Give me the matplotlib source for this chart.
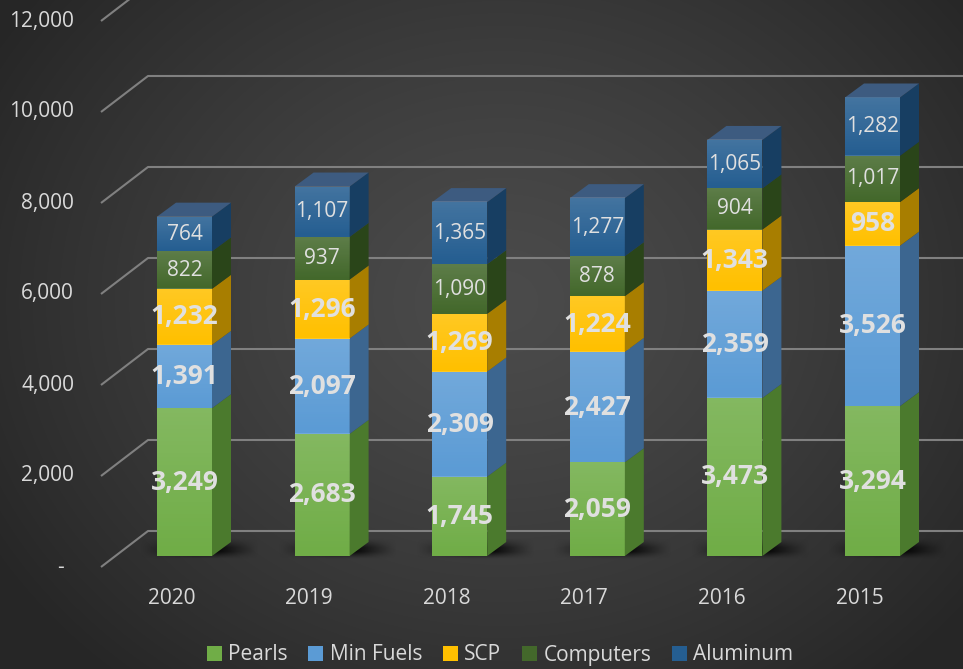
import numpy as np
import matplotlib
matplotlib.use("Agg")
import matplotlib.pyplot as plt
from matplotlib.patches import Polygon, Rectangle

# ---------------- data ----------------
years = ["2020", "2019", "2018", "2017", "2016", "2015"]
pearls = [3249, 2683, 1745, 2059, 3473, 3294]
min_fuels = [1391, 2097, 2309, 2427, 2359, 3526]
scp = [1232, 1296, 1269, 1224, 1343, 958]
computers = [822, 937, 1090, 878, 904, 1017]
aluminum = [764, 1107, 1365, 1277, 1065, 1282]
series_names = ["Pearls", "Min Fuels", "SCP", "Computers", "Aluminum"]
y_ticks = [0, 2000, 4000, 6000, 8000, 10000, 12000]
y_tick_labels = ["-", "2,000", "4,000", "6,000", "8,000", "10,000", "12,000"]

# ---------------- style ----------------
FONT = ["Open Sans", "DejaVu Sans"]
plt.rcParams["font.family"] = FONT
front_cols = ["#70ad47", "#5b9bd5", "#ffc000", "#43682b", "#255e91"]
side_cols = ["#4b7a2d", "#3c6690", "#a87e00", "#2a4519", "#173e62"]
top_col = "#3d5b80"
txt_col = "#e0e0e0"
bold_series = [True, True, True, False, False]

W, H, DPI = 963, 669, 100
fig = plt.figure(figsize=(W / DPI, H / DPI), dpi=DPI)
ax = fig.add_axes([0, 0, 1, 1])
ax.axis("off")

PX = 137.6      # pixels per category
PY = 0.0455     # pixels per value unit
X0 = 184.5      # pixel x of first bar centre
Y0 = 556.0      # pixel y (from top) of value 0 at bar front
xlim = (-X0 / PX, (W - X0) / PX)
ylim = (-(H - Y0) / PY, Y0 / PY)
ax.set_xlim(*xlim)
ax.set_ylim(*ylim)


def px2x(px):
    return (px - X0) / PX


def pyoff(dpx):  # pixel offset upward -> value units
    return dpx / PY


# background radial gradient
gy, gx = np.mgrid[0:H, 0:W]
r = np.sqrt(((gx - 0.52 * W) / (0.62 * W)) ** 2 + ((gy - 0.45 * H) / (0.75 * H)) ** 2)
t = np.clip(r, 0, 1) ** 1.3
c_in = np.array([0x4b, 0x4b, 0x4b]) / 255
c_out = np.array([0x26, 0x26, 0x26]) / 255
bg = c_in[None, None, :] * (1 - t[..., None]) + c_out[None, None, :] * t[..., None]
ax.imshow(bg, extent=(*xlim, *ylim), aspect="auto", zorder=0, origin="upper")

# gridlines (side wall diagonal + back wall)
gcol = "#808080"
for v, lab in zip(y_ticks, y_tick_labels):
    fx, fy = px2x(101), v - pyoff(11)
    bx, by = px2x(148), v + pyoff(25)
    ax.plot([fx, bx, xlim[1]], [fy, by, by], color=gcol, lw=1.5, zorder=1,
            solid_capstyle="butt")
    if lab == "-":
        ax.text(px2x(60), fy, lab, ha="center", va="center", fontsize=15,
                color="#d9d9d9", zorder=5)
    else:
        ax.text(px2x(74), fy, lab, ha="right", va="center", fontsize=15,
                color="#d9d9d9", zorder=5)

series = [pearls, min_fuels, scp, computers, aluminum]
idx = np.arange(len(years))
bw = 55 / PX
ddx = 19 / PX
ddy = pyoff(14)

# shadows under bars
for i in idx:
    x_l = i - bw / 2 - 0.12
    x_r = i + bw / 2 + ddx + 0.2
    y_b = -pyoff(3)
    y_t = pyoff(18)
    nx, ny = 120, 40
    xs = np.linspace(0, 1, nx)
    ys = np.linspace(0, 1, ny)
    ax_prof = np.clip(np.minimum(xs / 0.45, (1 - xs) / 0.35), 0, 1)
    ay_prof = np.clip(np.minimum(ys / 0.35, (1 - ys) / 0.45), 0, 1)
    alpha = (ax_prof[None, :] * ay_prof[:, None]) ** 1.2 * 0.85
    img = np.zeros((ny, nx, 4))
    img[..., 3] = alpha
    ax.imshow(img, extent=(x_l, x_r, y_b, y_t), origin="lower", aspect="auto",
              zorder=2, interpolation="bilinear")
ax.set_xlim(*xlim)
ax.set_ylim(*ylim)

bottoms = np.zeros(len(years))
for s, (name, vals) in enumerate(zip(series_names, series)):
    vals = np.array(vals, dtype=float)
    bars = ax.bar(idx, vals, width=bw, bottom=bottoms, color=front_cols[s],
                  linewidth=0, zorder=3, label=name)
    for i, b in enumerate(bars):
        x0, y0 = b.get_x(), b.get_y()
        w, h = b.get_width(), b.get_height()
        # light gradient overlay on front face
        grad = np.zeros((32, 2, 4))
        grad[..., :3] = 1.0
        grad[..., 3] = np.linspace(0.0, 0.14, 32)[:, None]
        ax.imshow(grad, extent=(x0, x0 + w, y0, y0 + h), origin="lower",
                  aspect="auto", zorder=3.1, interpolation="bilinear")
        # side face
        side = Polygon([(x0 + w, y0), (x0 + w, y0 + h),
                        (x0 + w + ddx, y0 + h + ddy), (x0 + w + ddx, y0 + ddy)],
                       closed=True, facecolor=side_cols[s], edgecolor="none",
                       zorder=3)
        ax.add_patch(side)
        # value label
        ax.text(x0 + w / 2, y0 + h / 2, f"{int(vals[i]):,}", ha="center",
                va="center", color=txt_col,
                fontsize=19 if bold_series[s] else 15,
                fontweight="bold" if bold_series[s] else "normal", zorder=6)
    bottoms = bottoms + vals

# top faces
for i, tot in zip(idx, bottoms):
    x0 = i - bw / 2
    top = Polygon([(x0, tot), (x0 + bw, tot), (x0 + bw + ddx, tot + ddy),
                   (x0 + ddx, tot + ddy)], closed=True, facecolor=top_col,
                  edgecolor="none", zorder=3)
    ax.add_patch(top)

# category labels
for i, yr in zip(idx, years):
    ax.text(i - 13 / PX, -pyoff(42), yr, ha="center", va="center",
            fontsize=15, color="#d9d9d9", zorder=5)

ax.set_xlim(*xlim)
ax.set_ylim(*ylim)

handles = [Rectangle((0, 0), 1, 1, facecolor=c, edgecolor="none") for c in front_cols]
leg = fig.legend(handles, series_names, loc="center",
                 bbox_to_anchor=(500 / W, 1 - 655 / H), ncol=5, frameon=False,
                 fontsize=15, handlelength=0.72, handleheight=0.72,
                 handletextpad=0.3, columnspacing=1.0, labelcolor="#d9d9d9")

fig.savefig("out.png", dpi=DPI)
